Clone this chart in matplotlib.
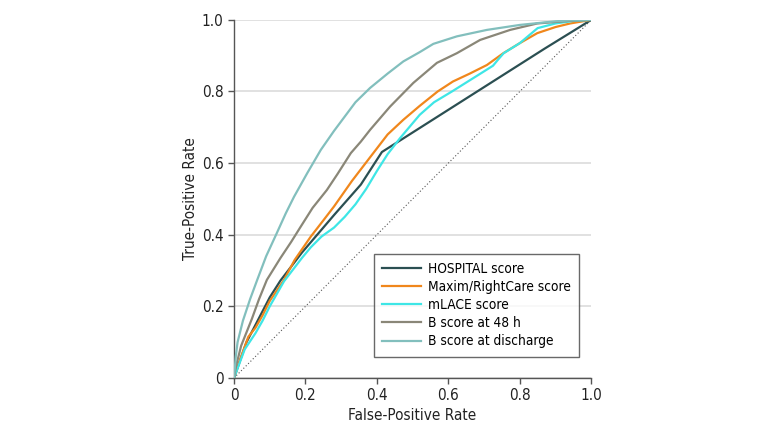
import matplotlib
matplotlib.use("Agg")
import matplotlib.pyplot as plt

plt.rcParams['font.family'] = ['DejaVu Sans']
plt.rcParams['font.stretch'] = 'condensed'

# ROC curves
hosp_x = [0, 0.035, 0.1, 0.13, 0.19, 0.28, 0.355, 0.414, 0.87, 1.0]
hosp_y = [0, 0.1, 0.225, 0.272, 0.35, 0.455, 0.54, 0.631, 0.92, 1.0]

maxim_x = [0, 0.02, 0.04, 0.06, 0.08, 0.1, 0.14, 0.17, 0.215, 0.25, 0.28, 0.33, 0.383, 0.43,
           0.474, 0.52, 0.57, 0.613, 0.66, 0.708, 0.754, 0.8, 0.849, 0.9, 0.941, 1.0]
maxim_y = [0, 0.06, 0.115, 0.14, 0.175, 0.215, 0.274, 0.33, 0.395, 0.44, 0.479, 0.55, 0.619,
           0.68, 0.721, 0.76, 0.8, 0.828, 0.85, 0.874, 0.907, 0.935, 0.963, 0.98, 0.99, 1.0]

mlace_x = [0, 0.015, 0.03, 0.06, 0.08, 0.1, 0.14, 0.19, 0.215, 0.245, 0.28, 0.31, 0.34, 0.37,
           0.4, 0.43, 0.465, 0.52, 0.56, 0.61, 0.65, 0.69, 0.725, 0.74, 0.755, 0.8, 0.85, 0.9,
           0.95, 1.0]
mlace_y = [0, 0.04, 0.08, 0.125, 0.16, 0.2, 0.27, 0.335, 0.365, 0.395, 0.42, 0.45, 0.485, 0.528,
           0.578, 0.625, 0.67, 0.735, 0.77, 0.8, 0.825, 0.85, 0.872, 0.89, 0.907, 0.935, 0.977,
           0.99, 0.997, 1.0]

b48_x = [0, 0.005, 0.02, 0.05, 0.07, 0.092, 0.13, 0.16, 0.187, 0.22, 0.26, 0.29, 0.327, 0.355,
         0.381, 0.437, 0.502, 0.568, 0.624, 0.689, 0.773, 0.849, 0.9, 0.95, 1.0]
b48_y = [0, 0.03, 0.09, 0.165, 0.22, 0.274, 0.335, 0.38, 0.423, 0.475, 0.525, 0.57, 0.628, 0.66,
         0.693, 0.758, 0.824, 0.88, 0.907, 0.944, 0.972, 0.99, 0.994, 0.998, 1.0]

bdis_x = [0, 0.005, 0.01, 0.025, 0.045, 0.065, 0.09, 0.12, 0.145, 0.168, 0.205, 0.243, 0.28,
          0.31, 0.34, 0.381, 0.43, 0.474, 0.52, 0.558, 0.624, 0.708, 0.801, 0.9, 0.95, 1.0]
bdis_y = [0, 0.06, 0.1, 0.16, 0.22, 0.274, 0.34, 0.405, 0.46, 0.506, 0.572, 0.637, 0.69, 0.73,
          0.77, 0.81, 0.85, 0.884, 0.91, 0.933, 0.954, 0.972, 0.986, 0.996, 0.999, 1.0]

ticks = [0, 0.2, 0.4, 0.6, 0.8, 1.0]
tick_labels = ['0', '0.2', '0.4', '0.6', '0.8', '1.0']

fig = plt.figure(figsize=(7.8, 4.32), dpi=100)
ax = fig.add_axes([0.3, 0.125, 0.458, 0.829])

ax.plot([0, 1], [0, 1], color='#555555', lw=0.8, ls=(0, (1, 2)), zorder=2)
ax.plot(hosp_x, hosp_y, color='#2b4f52', lw=1.6, label='HOSPITAL score', zorder=3)
ax.plot(maxim_x, maxim_y, color='#f0871c', lw=1.6, label='Maxim/RightCare score', zorder=3)
ax.plot(mlace_x, mlace_y, color='#3ee6e6', lw=1.6, label='mLACE score', zorder=3)
ax.plot(b48_x, b48_y, color='#8a8778', lw=1.6, label='B score at 48 h', zorder=3)
ax.plot(bdis_x, bdis_y, color='#82bfbd', lw=1.6, label='B score at discharge', zorder=3)

ax.set_xlim(0, 1)
ax.set_ylim(0, 1)
ax.set_xticks(ticks)
ax.set_xticklabels(tick_labels)
ax.set_yticks(ticks)
ax.set_yticklabels(tick_labels)
ax.yaxis.grid(True, color='#dcdcdc', lw=1.2)
ax.set_axisbelow(True)
for s in ['top', 'right']:
    ax.spines[s].set_visible(False)
for s in ['left', 'bottom']:
    ax.spines[s].set_color('#555555')
    ax.spines[s].set_linewidth(1.0)
ax.tick_params(colors='#555555', labelcolor='#222222', labelsize=11, length=4, width=1.0)
ax.set_xlabel('False-Positive Rate', fontsize=11, color='#222222', labelpad=3)
ax.set_ylabel('True-Positive Rate', fontsize=11, color='#222222', labelpad=3)

leg = ax.legend(loc='lower right', bbox_to_anchor=(0.966, 0.06), fontsize=9.8, frameon=True,
                fancybox=False, edgecolor='#444444', handlelength=2.9, borderpad=0.6,
                labelspacing=0.3, handletextpad=0.5, borderaxespad=0)
leg.get_frame().set_linewidth(1.0)

fig.savefig('out.png', dpi=100)
